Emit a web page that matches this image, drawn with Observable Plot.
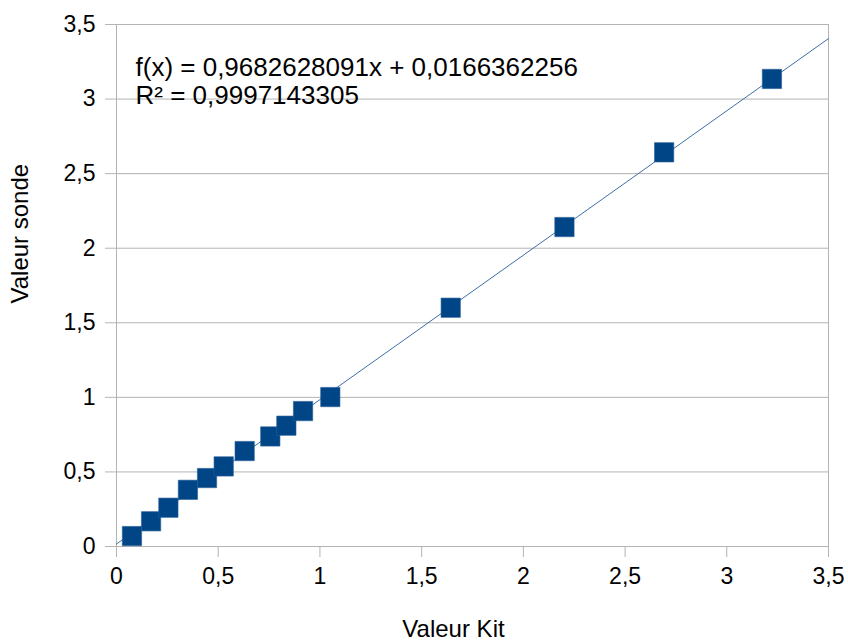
<!DOCTYPE html>
<html>
<head>
<meta charset="utf-8">
<script src="https://cdn.jsdelivr.net/npm/d3@7"></script>
<script src="https://cdn.jsdelivr.net/npm/@observablehq/plot@0.6"></script>
<style>
  html, body { margin: 0; padding: 0; background: #ffffff; }
  #chart svg { display: block; }
</style>
</head>
<body>
<div id="chart"></div>
<script>
// Data
const kitValues   = [0.076, 0.170, 0.255, 0.351, 0.445, 0.527, 0.630, 0.756, 0.835, 0.917, 1.051, 1.643, 2.202, 2.692, 3.222];
const sondeValues = [0.070, 0.169, 0.260, 0.380, 0.459, 0.537, 0.640, 0.738, 0.810, 0.908, 1.002, 1.601, 2.142, 2.643, 3.135];
const xTicks = [0, 0.5, 1, 1.5, 2, 2.5, 3, 3.5];
const yTicks = [0, 0.5, 1, 1.5, 2, 2.5, 3, 3.5];
const slope = 0.9682628091;
const intercept = 0.0166362256;
const equationText = "f(x) = 0,9682628091x + 0,0166362256\nR² = 0,9997143305";
const xTitle = "Valeur Kit";
const yTitle = "Valeur sonde";

const points = kitValues.map((x, i) => ({x, y: sondeValues[i]}));
const xDomain = [0, 3.5];
const trend = xDomain.map(x => ({x, y: slope * x + intercept}));
const fmt = d => String(d).replace(".", ",");
const gridColor = "#b3b3b3";

const chart = Plot.plot({
  width: 848,
  height: 643,
  marginLeft: 116,
  marginRight: 20,
  marginTop: 24,
  marginBottom: 97,
  style: {fontFamily: "'Liberation Sans', Arial, sans-serif", background: "#ffffff", color: "#000"},
  x: {domain: xDomain},
  y: {domain: [0, 3.5]},
  marks: [
    Plot.ruleY(yTicks, {stroke: gridColor, strokeWidth: 1}),
    Plot.ruleX([3.5], {stroke: gridColor, strokeWidth: 1}),
    Plot.ruleX([0], {stroke: gridColor, strokeWidth: 1}),
    Plot.axisX({ticks: xTicks, tickFormat: fmt, tickSize: 11, tickPadding: 10, fontSize: 23, stroke: gridColor, fill: "#000", label: null}),
    Plot.axisY({ticks: yTicks, tickFormat: fmt, tickSize: 11, tickPadding: 10, fontSize: 23, stroke: gridColor, fill: "#000", label: null}),
    Plot.line(trend, {x: "x", y: "y", stroke: "#3d6fa6", strokeWidth: 1}),
    Plot.dot(points, {x: "x", y: "y", symbol: "square", r: 10.9, fill: "#004586", stroke: "#2a5f98", strokeWidth: 0.6}),
    Plot.text([equationText], {frameAnchor: "top-left", dx: 19, dy: 31, textAnchor: "start", lineAnchor: "top", lineHeight: 1.09, fontSize: 26, fill: "#000"}),
    Plot.text([xTitle], {frameAnchor: "bottom", dx: -19, dy: 90, lineAnchor: "bottom", fontSize: 24, fill: "#000"}),
    Plot.text([yTitle], {frameAnchor: "left", dx: -96, dy: 18, rotate: -90, lineAnchor: "middle", fontSize: 24, fill: "#000"})
  ]
});
document.getElementById("chart").appendChild(chart);
</script>
</body>
</html>
